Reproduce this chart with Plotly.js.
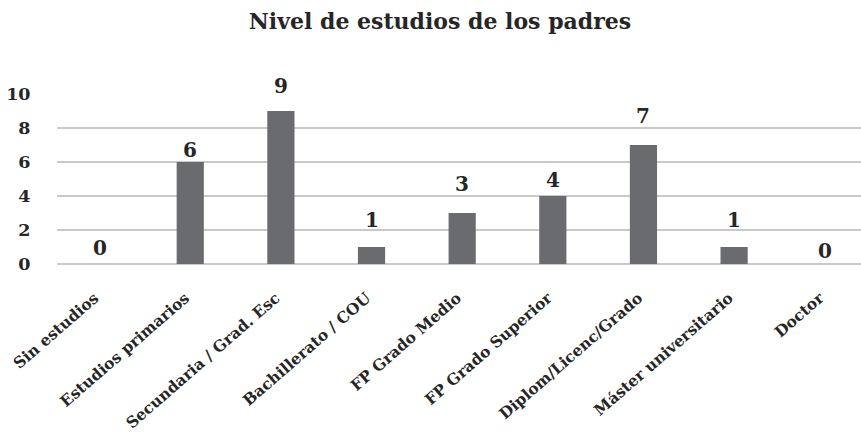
<!DOCTYPE html>
<html>
<head>
<meta charset="utf-8">
<script src="https://cdn.plot.ly/plotly-3.0.1.min.js"></script>
<style>html,body{margin:0;padding:0;background:#fff;}#chart{width:861px;height:435px;}</style>
</head>
<body>
<div id="chart"></div>
<script>
const categories = ["Sin estudios", "Estudios primarios", "Secundaria / Grad. Esc", "Bachillerato / COU", "FP Grado Medio", "FP Grado Superior", "Diplom/Licenc/Grado", "Máster universitario", "Doctor"];
const values = [0, 6, 9, 1, 3, 4, 7, 1, 0];
const yTicks = [0, 2, 4, 6, 8, 10];
const titleText = "Nivel de estudios de los padres";

// pixel shift of each value label above its bar top (style, not data)
const labelGap = [2, -2, 11, 13, 15, 2, 15, 13, -1];

const serif = "DejaVu Serif, Liberation Serif, serif";
const xs = categories.map((c, i) => i);
const trace = {
  type: "bar",
  x: xs,
  y: values,
  marker: {color: "#6a6b6f"},
  width: 0.3,
  hoverinfo: "none"
};
const annotations = values.map((v, i) => ({
  x: xs[i], y: v, xref: "x", yref: "y",
  text: "<b>" + v + "</b>",
  showarrow: false, yanchor: "bottom", xanchor: "center",
  yshift: labelGap[i],
  font: {family: serif, size: 20, color: "#262626"}
}));
const layout = {
  width: 861, height: 435,
  margin: {l: 57, r: 0, t: 94, b: 171},
  paper_bgcolor: "#fff", plot_bgcolor: "#fff",
  title: {text: "<b>" + titleText + "</b>", font: {family: serif, size: 22, color: "#262626"}, x: 0.511, xanchor: "center", y: 0.952, yanchor: "middle"},
  showlegend: false,
  annotations: annotations,
  xaxis: {
    type: "linear",
    range: [-0.47, 8.4],
    tickmode: "array",
    tickvals: xs,
    ticktext: categories.map(c => "<b>" + c + "</b>"),
    tickangle: -41,
    ticklabelshift: -5,
    tickfont: {family: serif, size: 15.5, color: "#262626"},
    showgrid: false, zeroline: false, showline: false,
    ticks: "outside", ticklen: 18, tickcolor: "rgba(0,0,0,0)"
  },
  yaxis: {
    range: [0, 10],
    tickmode: "array",
    tickvals: yTicks,
    ticktext: yTicks.map(v => "<b>" + v + "</b>"),
    tickfont: {family: serif, size: 17.5, color: "#262626"},
    showgrid: true, gridcolor: "#c9c9cb", gridwidth: 1.5,
    zeroline: true, zerolinecolor: "#c9c9cb", zerolinewidth: 1.5,
    showline: false,
    ticks: "outside", ticklen: 22, tickcolor: "rgba(0,0,0,0)"
  }
};
Plotly.newPlot("chart", [trace], layout, {displayModeBar: false, staticPlot: true});
</script>
</body>
</html>
